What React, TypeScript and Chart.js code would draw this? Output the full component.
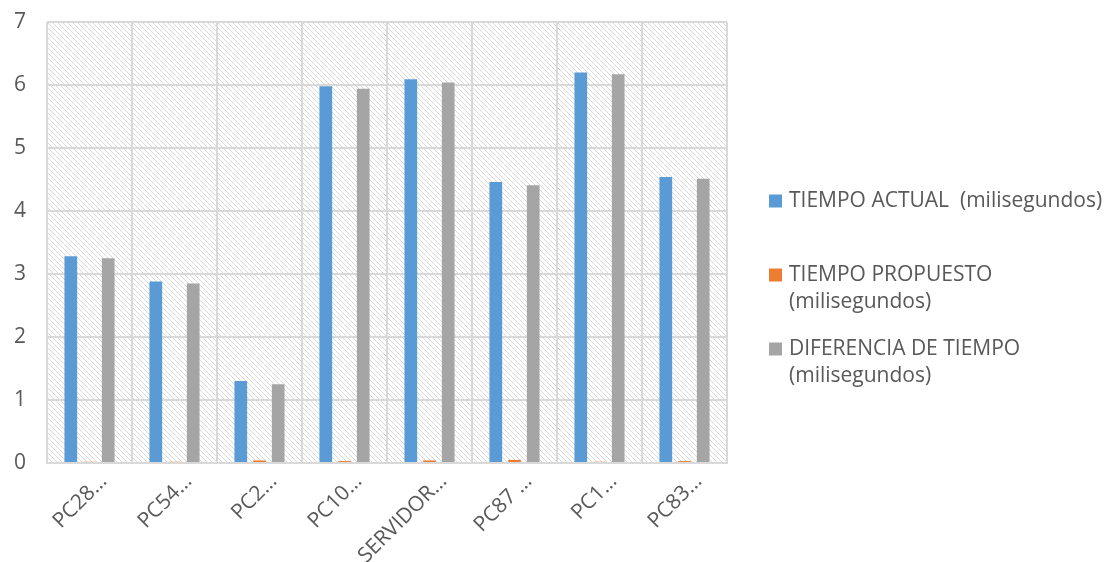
import React, { useEffect, useRef } from "react";
import { Chart, registerables } from "chart.js";

Chart.register(...registerables);

const categories = ["PC28…", "PC54…", "PC2…", "PC10…", "SERVIDOR…", "PC87 …", "PC1…", "PC83…"];
const seriesLabels = ["TIEMPO ACTUAL  (milisegundos)", "TIEMPO PROPUESTO (milisegundos)", "DIFERENCIA DE TIEMPO (milisegundos)"];
const legendLines = [["TIEMPO ACTUAL  (milisegundos)"], ["TIEMPO PROPUESTO", "(milisegundos)"], ["DIFERENCIA DE TIEMPO", "(milisegundos)"]];
const tiempoActual = [3.28, 2.88, 1.3, 5.98, 6.09, 4.46, 6.2, 4.54];
const tiempoPropuesto = [0.02, 0.02, 0.04, 0.03, 0.04, 0.05, 0.02, 0.03];
const diferenciaTiempo = [3.25, 2.85, 1.25, 5.94, 6.04, 4.41, 6.17, 4.51];
const yMin = 0;
const yMax = 7;
const yStep = 1;

const seriesColors = ["#5B9BD5", "#ED7D31", "#A5A5A5"];
const textColor = "#595959";
const gridColor = "#d9d9d9";
const FONT = "'Open Sans', sans-serif";
const FONT_SIZE = 21;

function makeHatch(ctx: CanvasRenderingContext2D): CanvasPattern | string {
  const n = 5;
  const c = document.createElement("canvas");
  c.width = n;
  c.height = n;
  const g = c.getContext("2d");
  if (!g) return "#fff";
  g.fillStyle = "#ffffff";
  g.fillRect(0, 0, n, n);
  g.fillStyle = "#d9d9d9";
  for (let i = 0; i < n; i++) g.fillRect(i, i, 1, 1);
  return ctx.createPattern(c, "repeat") || "#fff";
}

const hatchPlugin = {
  id: "hatchBg",
  beforeDraw(chart: any) {
    const { ctx, chartArea } = chart;
    ctx.save();
    ctx.fillStyle = makeHatch(ctx);
    ctx.fillRect(chartArea.left, chartArea.top, chartArea.right - chartArea.left, chartArea.bottom - chartArea.top);
    ctx.restore();
  },
};

const legendPlugin = {
  id: "customLegend",
  afterDraw(chart: any) {
    const { ctx, chartArea } = chart;
    ctx.save();
    ctx.font = `${FONT_SIZE}px ${FONT}`;
    ctx.textBaseline = "middle";
    ctx.textAlign = "left";
    const boxX = chartArea.right + 42;
    const textX = chartArea.right + 62;
    chart.data.datasets.forEach((ds: any, i: number) => {
      const y0 = 201 + i * 74;
      ctx.fillStyle = ds.backgroundColor;
      ctx.fillRect(boxX, y0 - 6.5, 13, 13);
      ctx.fillStyle = textColor;
      legendLines[i].forEach((line, j) => {
        ctx.fillText(line, textX, y0 + j * 27);
      });
    });
    ctx.restore();
  },
};

export default function App() {
  const ref = useRef<HTMLCanvasElement | null>(null);
  useEffect(() => {
    document.body.style.margin = "0";
    const canvas = ref.current;
    if (!canvas) return;
    const values = [tiempoActual, tiempoPropuesto, diferenciaTiempo];
    const chart = new Chart(canvas, {
      type: "bar",
      data: {
        labels: categories,
        datasets: values.map((v, i) => ({
          label: seriesLabels[i],
          data: v,
          backgroundColor: seriesColors[i],
          borderWidth: 0,
          categoryPercentage: 0.66,
          barPercentage: 0.68,
        })),
      },
      options: {
        animation: false,
        responsive: false,
        maintainAspectRatio: false,
        layout: { padding: { top: 22, right: 380, left: 14, bottom: 0 } },
        plugins: {
          legend: { display: false },
          tooltip: { enabled: false },
        },
        scales: {
          x: {
            grid: { color: gridColor, lineWidth: 2, drawTicks: false, offset: true },
            border: { color: gridColor, width: 2 },
            ticks: {
              color: textColor,
              font: { family: FONT, size: FONT_SIZE },
              maxRotation: 45,
              minRotation: 45,
              padding: 6,
              labelOffset: 14,
              autoSkip: false,
            },
            afterFit(scale: any) {
              scale.height = 99;
            },
          },
          y: {
            min: yMin,
            max: yMax,
            grid: { color: gridColor, lineWidth: 2, drawTicks: false },
            border: { display: false },
            ticks: {
              stepSize: yStep,
              color: textColor,
              font: { family: FONT, size: FONT_SIZE },
              padding: 0,
              crossAlign: "far",
            },
            afterFit(scale: any) {
              scale.width = 33;
            },
          },
        },
      },
      plugins: [hatchPlugin, legendPlugin],
    });
    return () => chart.destroy();
  }, []);
  return (
    <div style={{ width: 1107, height: 562 }}>
      <canvas ref={ref} width={1107} height={562} style={{ display: "block" }} />
    </div>
  );
}
